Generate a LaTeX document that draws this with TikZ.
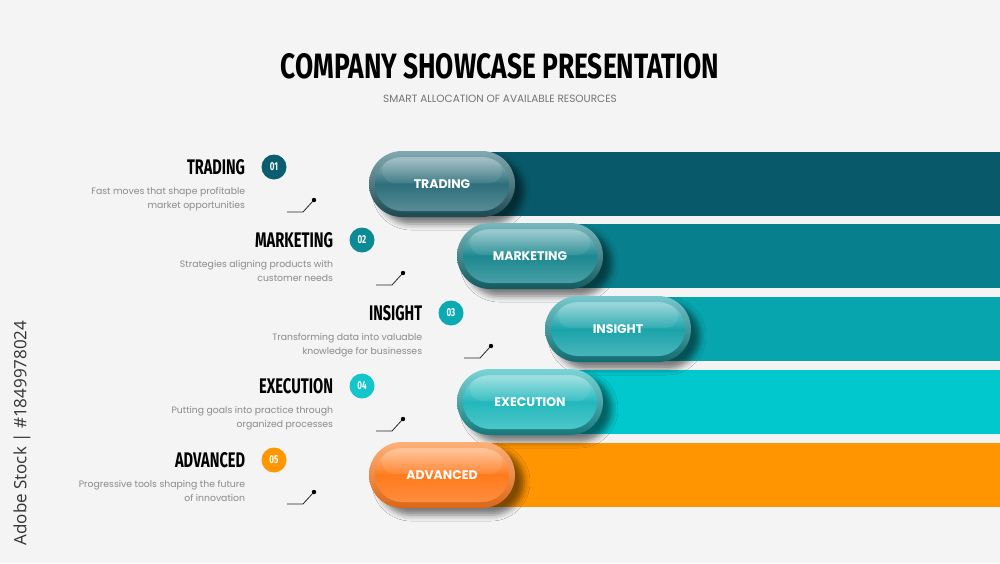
\documentclass[tikz,border=0pt]{standalone}
\usepackage{fontspec}
\usepackage{graphicx}
\setmainfont{Poppins}
\newfontfamily\headfont{Fira Sans}
\newfontfamily\stockfont{Open Sans}
\usepackage{tikz}
\usetikzlibrary{positioning, shadows.blur}
\definecolor{bgColor}{HTML}{F4F4F4}
\definecolor{descColor}{HTML}{8A8A8A}
\definecolor{barA}{HTML}{085A6B}
\definecolor{barB}{HTML}{087F8C}
\definecolor{barC}{HTML}{07A6AE}
\definecolor{barD}{HTML}{00C8CC}
\definecolor{barE}{HTML}{FF9500}
\definecolor{pillA}{HTML}{2D6F7B}
\definecolor{pillB}{HTML}{1C8890}
\definecolor{pillC}{HTML}{1AA3AA}
\definecolor{pillD}{HTML}{22B8BC}
\definecolor{pillE}{HTML}{FF7A1C}
\definecolor{dotA}{HTML}{0B5E70}
\definecolor{dotB}{HTML}{0E8A96}
\definecolor{dotC}{HTML}{0BA9B2}
\definecolor{dotD}{HTML}{14C6CC}
\definecolor{dotE}{HTML}{FF9800}
\newcommand{\headtext}[2]{\resizebox{#1pt}{15pt}{\headfont\bfseries #2}}
\newcommand{\dotnum}[1]{\scalebox{0.7}[1]{\headfont\bfseries\fontsize{11.5}{12}\selectfont #1}}
\tikzset{
    pillout/.style={rounded corners=33pt, minimum width=146pt, minimum height=66pt, inner sep=0pt,
        blur shadow={shadow xshift=9pt, shadow yshift=-7pt, shadow blur radius=6pt, shadow opacity=50}},
    pillin/.style={rounded corners=27pt, minimum width=134pt, minimum height=54pt, inner sep=0pt},
    gloss/.style={rounded corners=12pt, minimum width=120pt, minimum height=24pt, inner sep=0pt, fill=white, fill opacity=0.09},
    pilltext/.style={text=white, font=\bfseries\fontsize{12.5}{14}\selectfont},
    numdot/.style={circle, minimum size=25pt, inner sep=0pt, text=white},
    desc/.style={align=right, text=descColor, font=\fontsize{9.3}{14}\selectfont, inner sep=0pt},
    trend/.style={line width=0.8pt, black!85},
}

\begin{document}
\begin{tikzpicture}[x=1pt, y=-1pt]
    \fill[bgColor] (0,0) rectangle (1000,563);
    \useasboundingbox (0,0) rectangle (1000,563);
    % heading
    \node (title) at (500,66) {\resizebox{438pt}{25pt}{\headfont\bfseries COMPANY SHOWCASE PRESENTATION}};
    \node[text=black!55, font=\fontsize{10.5}{12}\selectfont] (subtitle) at (500,99) {SMART ALLOCATION OF AVAILABLE RESOURCES};
    \node[rotate=90, text=black!80, font=\stockfont\fontsize{17}{20}\selectfont] (stock) at (22,433) {Adobe Stock | \#1849978024};
    % bars
    \fill[barA] (442,152) rectangle (1000,216);
    \fill[barB] (530,224) rectangle (1000,288);
    \fill[barC] (618,297) rectangle (1000,361);
    \fill[barD] (530,370) rectangle (1000,434);
    \fill[barE] (442,443) rectangle (1000,507);
    % pills
    \node[pillout, top color=pillA!60!white, bottom color=pillA!65!black] (p1) at (442,184) {};
    \node[pillin, top color=pillA!45!white, bottom color=pillA!80!white, middle color=pillA] (q1) at (p1) {};
    \node[gloss] (g1) at ([yshift=13pt]q1.center) {};
    \node[pilltext] (l1) at (q1) {TRADING};
    \node[pillout, top color=pillB!60!white, bottom color=pillB!65!black] (p2) at (530,256) {};
    \node[pillin, top color=pillB!45!white, bottom color=pillB!80!white, middle color=pillB] (q2) at (p2) {};
    \node[gloss] (g2) at ([yshift=13pt]q2.center) {};
    \node[pilltext] (l2) at (q2) {MARKETING};
    \node[pillout, top color=pillC!60!white, bottom color=pillC!65!black] (p3) at (618,329) {};
    \node[pillin, top color=pillC!45!white, bottom color=pillC!80!white, middle color=pillC] (q3) at (p3) {};
    \node[gloss] (g3) at ([yshift=13pt]q3.center) {};
    \node[pilltext] (l3) at (q3) {INSIGHT};
    \node[pillout, top color=pillD!60!white, bottom color=pillD!65!black] (p4) at (530,402) {};
    \node[pillin, top color=pillD!45!white, bottom color=pillD!80!white, middle color=pillD] (q4) at (p4) {};
    \node[gloss] (g4) at ([yshift=13pt]q4.center) {};
    \node[pilltext] (l4) at (q4) {EXECUTION};
    \node[pillout, top color=pillE!60!white, bottom color=pillE!85!black] (p5) at (442,475) {};
    \node[pillin, top color=pillE!45!white, bottom color=pillE!85!white, middle color=pillE] (q5) at (p5) {};
    \node[gloss] (g5) at ([yshift=13pt]q5.center) {};
    \node[pilltext] (l5) at (q5) {ADVANCED};
    % left labels
    \node[numdot, fill=dotA] (n1) at (274,167) {\dotnum{01}};
    \node[left=16pt of n1, inner sep=0pt] (t1) {\headtext{58}{TRADING}};
    \node[desc, below left=12pt and 0pt of t1.south east] (d1) {Fast moves that shape profitable\\market opportunities};
    \node[numdot, fill=dotB] (n2) at (362,240) {\dotnum{02}};
    \node[left=16pt of n2, inner sep=0pt] (t2) {\headtext{78}{MARKETING}};
    \node[desc, below left=12pt and 0pt of t2.south east] (d2) {Strategies aligning products with\\customer needs};
    \node[numdot, fill=dotC] (n3) at (451,313) {\dotnum{03}};
    \node[left=16pt of n3, inner sep=0pt] (t3) {\headtext{53}{INSIGHT}};
    \node[desc, below left=12pt and 0pt of t3.south east] (d3) {Transforming data into valuable\\knowledge for businesses};
    \node[numdot, fill=dotD] (n4) at (362,386) {\dotnum{04}};
    \node[left=16pt of n4, inner sep=0pt] (t4) {\headtext{74}{EXECUTION}};
    \node[desc, below left=12pt and 0pt of t4.south east] (d4) {Putting goals into practice through\\organized processes};
    \node[numdot, fill=dotE] (n5) at (274,460) {\dotnum{05}};
    \node[left=16pt of n5, inner sep=0pt] (t5) {\headtext{70}{ADVANCED}};
    \node[desc, below left=12pt and 0pt of t5.south east] (d5) {Progressive tools shaping the future\\of innovation};
    % trend marks
    \draw[trend] (287,212) -- (303,212) -- (313,201);
    \fill[black] (314,200) circle (2.2pt);
    \draw[trend] (376,285) -- (392,285) -- (402,274);
    \fill[black] (403,273) circle (2.2pt);
    \draw[trend] (464,358) -- (480,358) -- (490,347);
    \fill[black] (491,346) circle (2.2pt);
    \draw[trend] (376,431) -- (392,431) -- (402,420);
    \fill[black] (403,419) circle (2.2pt);
    \draw[trend] (287,504) -- (303,504) -- (313,493);
    \fill[black] (314,492) circle (2.2pt);
\end{tikzpicture}
\end{document}
